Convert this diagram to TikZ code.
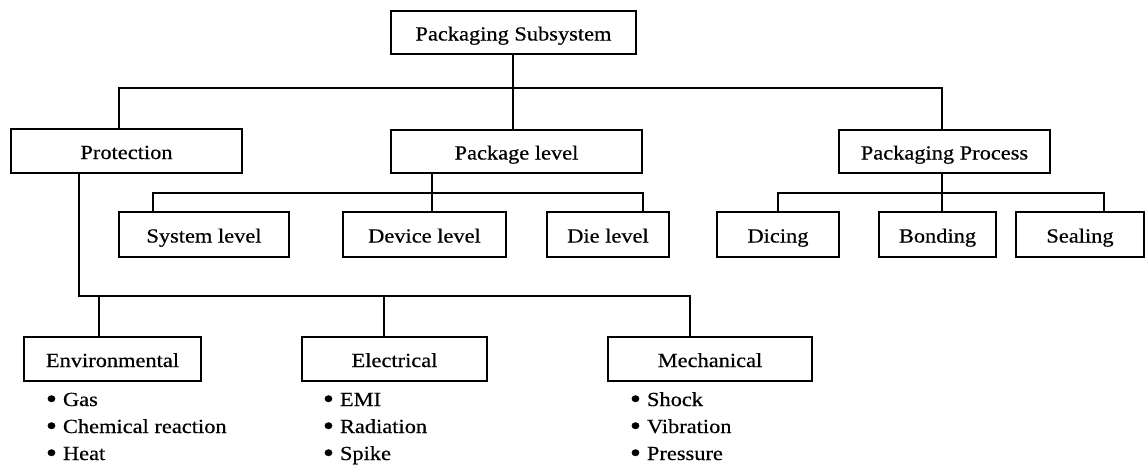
\documentclass[tikz,border=0pt]{standalone}
\usepackage{fontspec}
\setmainfont{Liberation Serif}[FakeStretch=1.12,FakeBold=0.5]
\begin{document}
\begin{tikzpicture}[x=1pt,y=-1pt,
  line width=2pt,
  every node/.style={font=\fontsize{20}{24}\selectfont, inner sep=0pt},
  box/.style={draw, rectangle, line width=2pt, minimum height=44pt,
    text height=16pt, text depth=0pt},
  item/.style={anchor=base west},
  conn/.style={line width=2pt, line join=miter}]
\newcommand{\blt}{\makebox[17pt][l]{\smash{\raisebox{-2pt}{\scalebox{1.4}{\textbullet}}}}}
\useasboundingbox (0,0) rectangle (1148,467);

% --- top level
\node[box, minimum width=245pt, minimum height=43pt] (top) at (513.5,32.5) {Packaging Subsystem};

% --- second level
\node[box, minimum width=231pt] (prot) at (126.5,151) {Protection};
\node[box, minimum width=251pt, minimum height=43pt] (pkg) at (516.5,151.5) {Package level};
\node[box, minimum width=211pt, minimum height=43pt] (proc) at (944.5,151.5) {Packaging Process};

% --- package levels
\node[box, minimum width=170pt, minimum height=45pt] (sys) at (204,234.5) {System level};
\node[box, minimum width=163pt, minimum height=45pt] (dev) at (424.5,234.5) {Device level};
\node[box, minimum width=122pt, minimum height=45pt] (die) at (608,234.5) {Die level};

% --- process steps
\node[box, minimum width=122pt, minimum height=45pt] (dic) at (778,234.5) {Dicing};
\node[box, minimum width=117pt, minimum height=45pt] (bon) at (937.5,234.5) {Bonding};
\node[box, minimum width=128pt, minimum height=45pt] (seal) at (1080,234.5) {Sealing};

% --- protection categories
\node[box, minimum width=177pt] (env) at (112.5,359) {Environmental};
\node[box, minimum width=185pt] (elec) at (394.5,359) {Electrical};
\node[box, minimum width=204pt] (mech) at (710,359) {Mechanical};

% --- bullet lists
\node[item] (env1) at (45,406) {\blt Gas};
\node[item] (env2) at (45,433) {\blt Chemical reaction};
\node[item] (env3) at (45,460) {\blt Heat};
\node[item] (elec1) at (322,406) {\blt EMI};
\node[item] (elec2) at (322,433) {\blt Radiation};
\node[item] (elec3) at (322,460) {\blt Spike};
\node[item] (mech1) at (629,406) {\blt Shock};
\node[item] (mech2) at (629,433) {\blt Vibration};
\node[item] (mech3) at (629,460) {\blt Pressure};

% --- junction points of the connector buses
\coordinate (busL) at (119,88);
\coordinate (busR) at (942,88);
\coordinate (busC) at (513,88);
\coordinate (pkgJ) at (432,193);
\coordinate (sysJ) at (153,193);
\coordinate (dieJ) at (643,193);
\coordinate (dicJ) at (778,193);
\coordinate (sealJ) at (1104,193);
\coordinate (protJ) at (79,296);
\coordinate (envJ) at (99,296);
\coordinate (elecJ) at (384,296);
\coordinate (mechJ) at (690,296);

% top -> second level
\draw[conn] (busC |- top.south) -- (busC) -- (busC |- pkg.north);
\draw[conn] (busL |- prot.north) -- (busL) -- (busR) -- (busR |- proc.north);

% package level -> levels
\draw[conn] (pkgJ |- pkg.south) -- (pkgJ) -- (pkgJ |- dev.north);
\draw[conn] (sysJ |- sys.north) -- (sysJ) -- (dieJ) -- (dieJ |- die.north);

% packaging process -> steps
\draw[conn] (busR |- proc.south) -- (busR |- bon.north);
\draw[conn] (dicJ |- dic.north) -- (dicJ) -- (sealJ) -- (sealJ |- seal.north);

% protection -> categories
\draw[conn] (protJ |- prot.south) -- (protJ) -- (mechJ) -- (mechJ |- mech.north);
\draw[conn] (envJ) -- (envJ |- env.north);
\draw[conn] (elecJ) -- (elecJ |- elec.north);
\end{tikzpicture}
\end{document}
